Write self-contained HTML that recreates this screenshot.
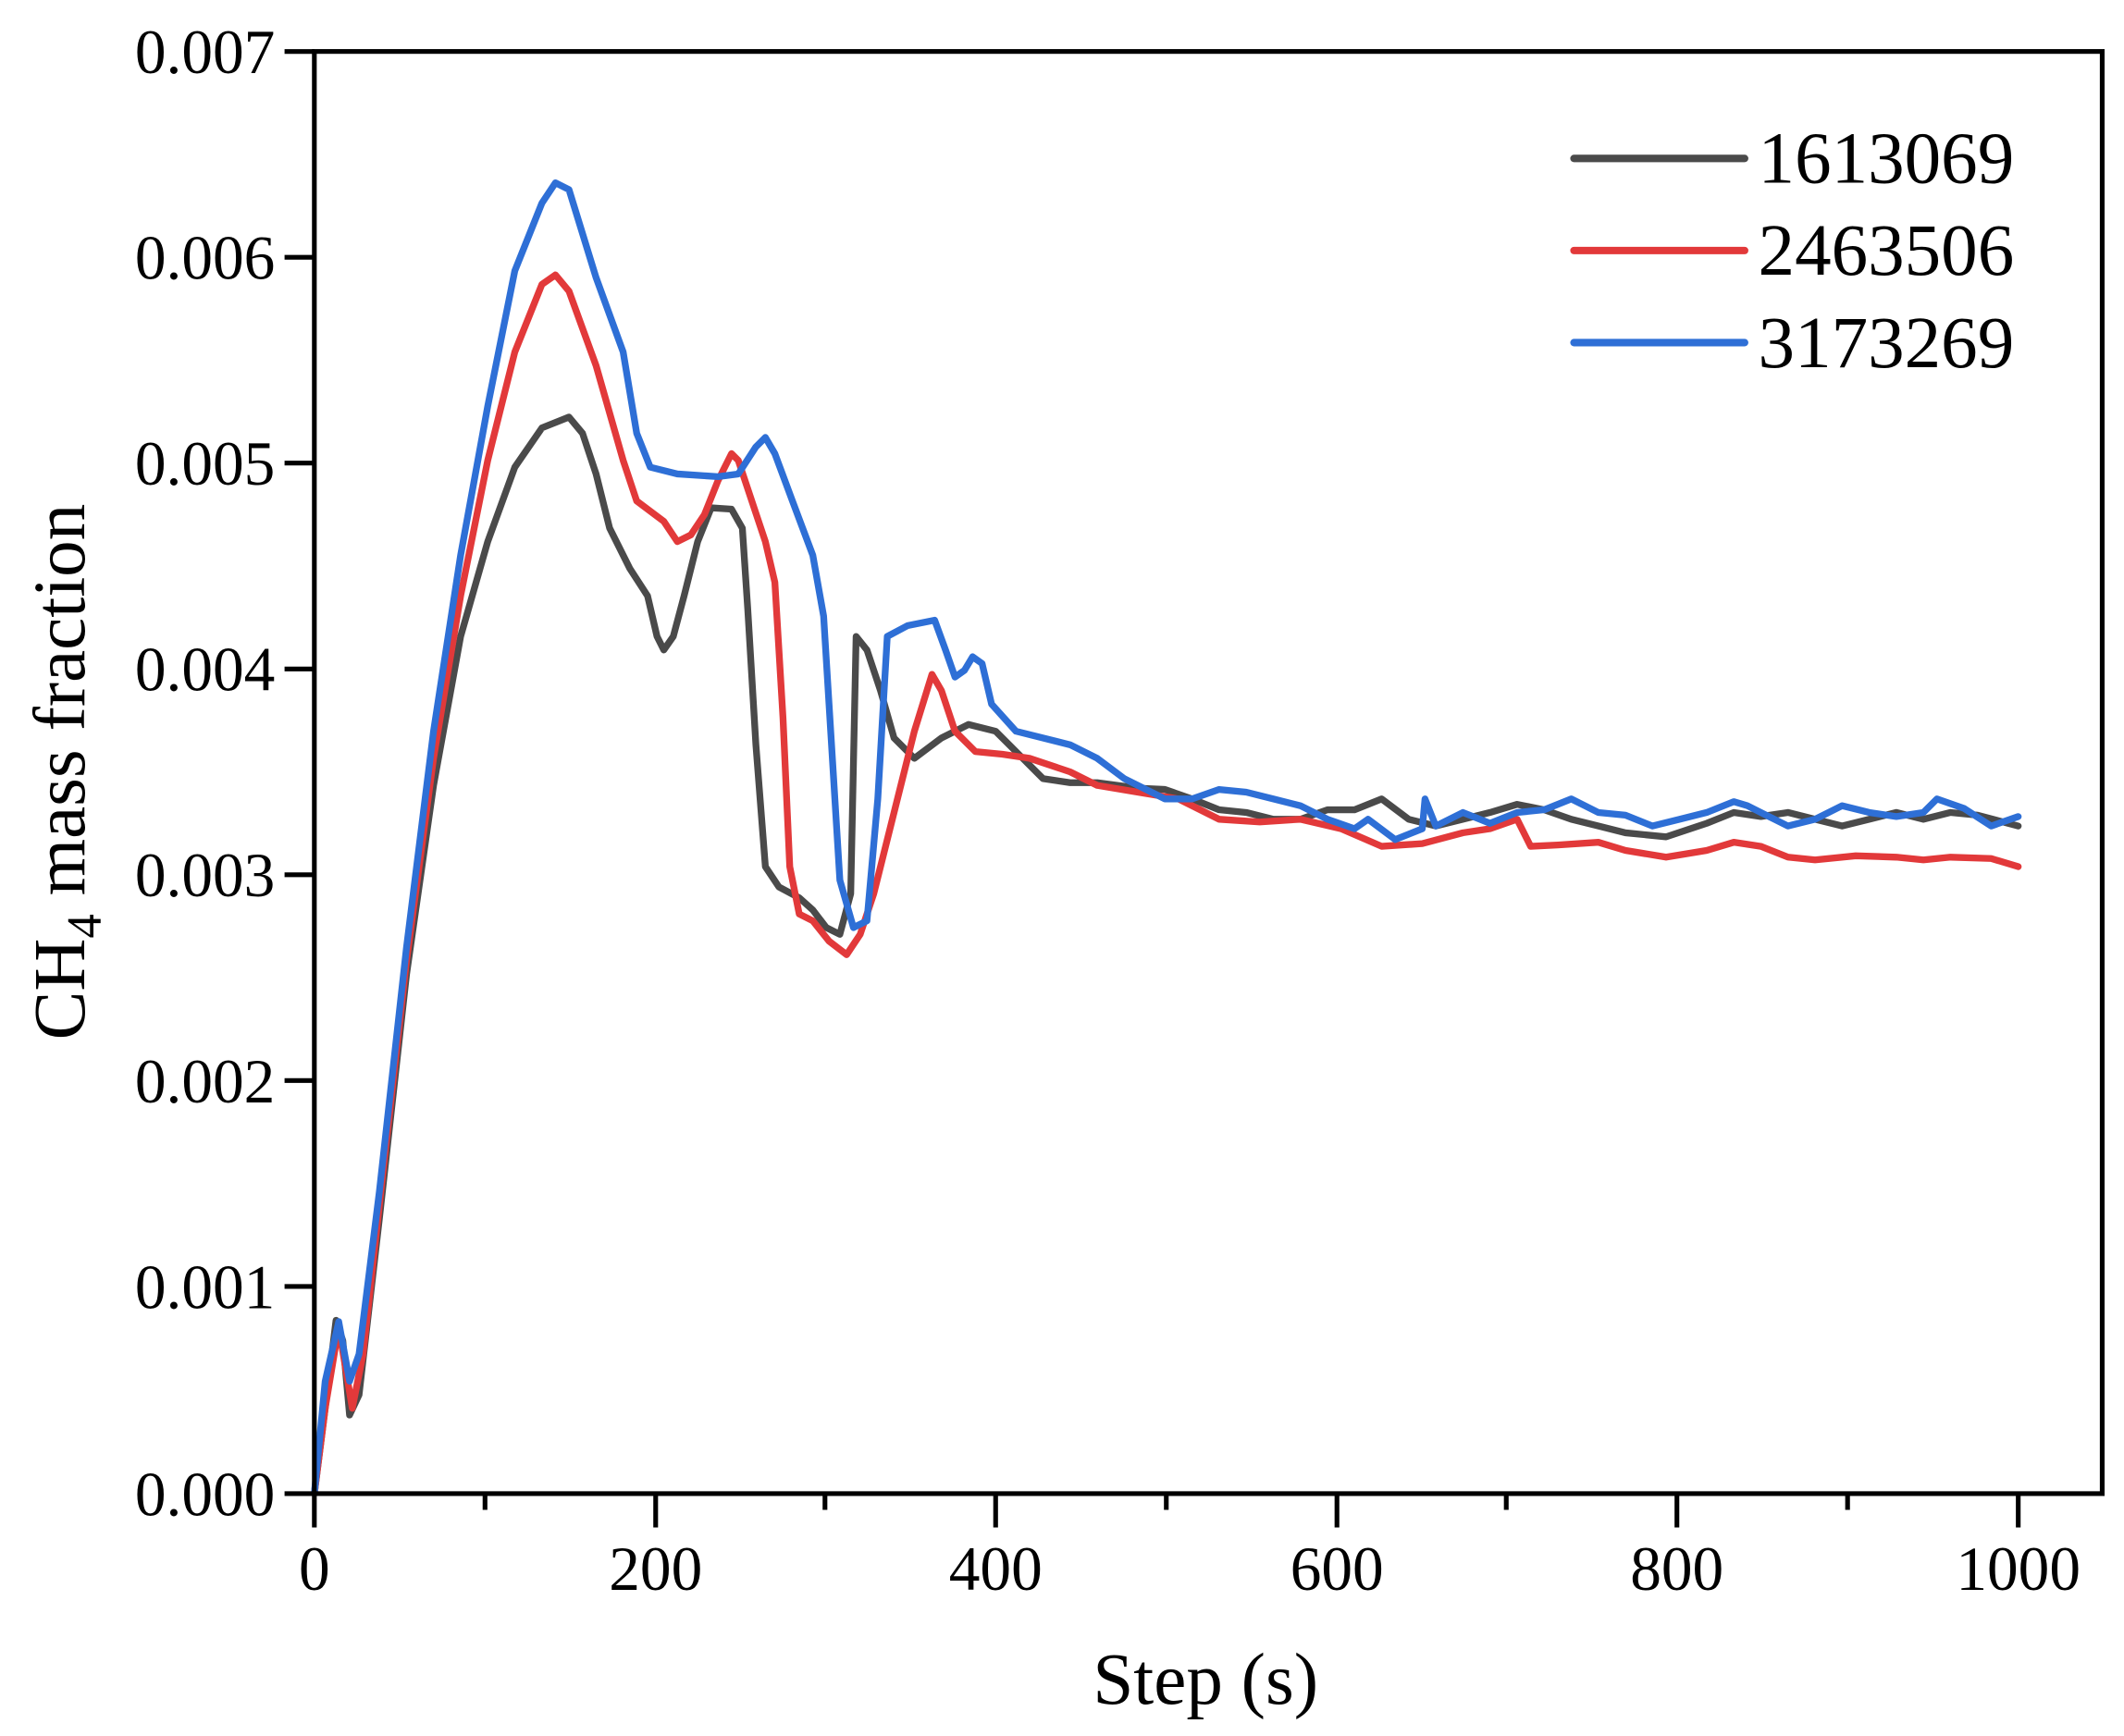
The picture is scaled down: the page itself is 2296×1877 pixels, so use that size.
<!DOCTYPE html>
<html><head><meta charset="utf-8"><style>html,body{margin:0;padding:0;background:#fff}svg{display:block}</style></head>
<body>
<svg width="2296" height="1877" viewBox="0 0 1568 1282" xmlns="http://www.w3.org/2000/svg" font-family="Liberation Serif, serif">
<rect width="1568" height="1282" fill="#fff"/>
<g fill="none" stroke-linejoin="round" stroke-linecap="round" stroke-width="5">
<polyline stroke="#4a4a4a" points="232,1103 240,1040 248,975 253,990 258,1045 265,1030 280,900 300,720 320,580 340,470 360,400 380,345 400,316 420,308 430,320 440,350 450,390 465,420 478,440 485,470 490,480 497,470 505,440 515,400 525,375 540,376 548,390 552,450 558,550 565,640 575,655 590,663 600,672 610,685 620,690 628,660 632,470 640,480 650,510 660,545 675,560 695,545 715,535 735,540 750,555 770,575 790,578 810,578 840,582 860,583 880,590 900,598 920,600 940,605 960,605 980,598 1000,598 1020,590 1040,605 1060,610 1080,605 1100,600 1120,594 1140,598 1160,605 1180,610 1200,615 1230,618 1260,608 1280,600 1300,603 1320,600 1340,605 1360,610 1380,605 1400,600 1420,605 1440,600 1460,602 1490,610"/>
<polyline stroke="#e2393a" points="232,1103 240,1040 250,980 260,1040 268,1000 280,890 300,710 320,560 340,440 360,340 380,260 400,210 410,203 420,215 440,270 460,340 470,370 490,385 500,400 510,395 520,380 530,355 540,335 545,340 555,370 565,400 572,430 578,530 583,640 590,675 600,680 612,695 625,705 635,690 645,660 660,600 675,540 688,498 695,510 705,540 720,555 740,557 760,560 790,570 810,580 840,585 870,590 900,605 930,607 960,605 990,612 1020,625 1050,623 1080,615 1100,612 1120,605 1130,625 1150,624 1180,622 1200,628 1230,633 1260,628 1280,622 1300,625 1320,633 1340,635 1370,632 1400,633 1420,635 1440,633 1470,634 1490,640"/>
<polyline stroke="#2e6fd6" points="232,1103 240,1020 250,976 258,1020 265,1000 280,880 300,700 320,540 340,410 360,300 380,200 400,150 410,135 420,140 440,205 460,260 470,320 480,345 500,350 530,352 545,350 558,330 565,323 572,335 585,370 600,410 608,455 612,520 620,650 630,685 640,680 648,590 655,470 670,462 690,458 698,480 705,500 712,495 718,485 725,490 732,520 750,540 770,545 790,550 810,560 830,575 860,590 880,590 900,583 920,585 940,590 960,595 980,605 1000,612 1010,605 1030,620 1050,612 1052,590 1060,610 1080,600 1100,608 1120,600 1140,598 1160,590 1170,595 1180,600 1200,602 1220,610 1240,605 1260,600 1280,592 1290,595 1300,600 1320,610 1340,605 1360,595 1380,600 1400,603 1420,600 1430,590 1450,597 1470,610 1490,603"/>
</g>
<rect x="232" y="38" width="1320" height="1065" fill="none" stroke="#000" stroke-width="3.5"/>
<g stroke="#000" stroke-width="3.5">
<line x1="210" y1="38" x2="232" y2="38"/><line x1="210" y1="190" x2="232" y2="190"/><line x1="210" y1="342" x2="232" y2="342"/><line x1="210" y1="494" x2="232" y2="494"/><line x1="210" y1="646" x2="232" y2="646"/><line x1="210" y1="798" x2="232" y2="798"/><line x1="210" y1="950" x2="232" y2="950"/><line x1="210" y1="1103" x2="232" y2="1103"/>
<line x1="232" y1="1103" x2="232" y2="1128"/><line x1="484" y1="1103" x2="484" y2="1128"/><line x1="735" y1="1103" x2="735" y2="1128"/><line x1="987" y1="1103" x2="987" y2="1128"/><line x1="1238" y1="1103" x2="1238" y2="1128"/><line x1="1490" y1="1103" x2="1490" y2="1128"/>
<line x1="358" y1="1103" x2="358" y2="1115"/><line x1="609" y1="1103" x2="609" y2="1115"/><line x1="861" y1="1103" x2="861" y2="1115"/><line x1="1112" y1="1103" x2="1112" y2="1115"/><line x1="1364" y1="1103" x2="1364" y2="1115"/>
</g>
<g font-size="46" fill="#000" text-anchor="end">
<text x="203" y="54">0.007</text><text x="203" y="206">0.006</text><text x="203" y="358">0.005</text><text x="203" y="510">0.004</text><text x="203" y="662">0.003</text><text x="203" y="814">0.002</text><text x="203" y="966">0.001</text><text x="203" y="1119">0.000</text>
</g>
<g font-size="46" fill="#000" text-anchor="middle">
<text x="232" y="1174">0</text><text x="484" y="1174">200</text><text x="735" y="1174">400</text><text x="987" y="1174">600</text><text x="1238" y="1174">800</text><text x="1490" y="1174">1000</text>
</g>
<text x="890" y="1258" font-size="54" text-anchor="middle">Step (s)</text>
<text transform="translate(62,570) rotate(-90)" font-size="54" text-anchor="middle">CH<tspan font-size="36" dy="12">4</tspan><tspan dy="-12"> mass fraction</tspan></text>
<g stroke-width="5.5" stroke-linecap="round">
<line x1="1162" y1="117" x2="1288" y2="117" stroke="#4a4a4a"/>
<line x1="1162" y1="185" x2="1288" y2="185" stroke="#e2393a"/>
<line x1="1162" y1="253" x2="1288" y2="253" stroke="#2e6fd6"/>
</g>
<g font-size="54" fill="#000">
<text x="1298" y="135">1613069</text><text x="1298" y="203">2463506</text><text x="1298" y="271">3173269</text>
</g>
</svg>
</body></html>
